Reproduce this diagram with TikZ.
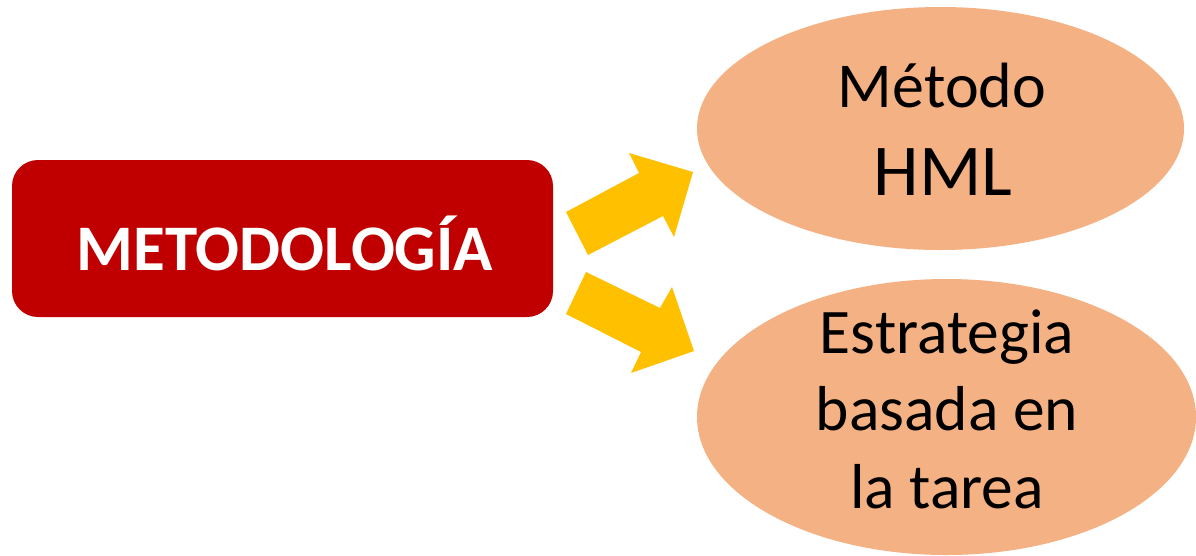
\documentclass[tikz,border=0pt]{standalone}
\usepackage{fontspec}
\setmainfont{Carlito}
\usetikzlibrary{shapes.geometric}
\definecolor{boxred}{HTML}{C00000}
\definecolor{ovalfill}{HTML}{F4B183}
\definecolor{arrowgold}{HTML}{FFC000}
\tikzset{
  oval/.style={ellipse, fill=ovalfill, draw=none, inner sep=0pt},
  blockarrow/.style={fill=arrowgold, draw=none},
  ovaltext/.style={align=center, text=black, inner sep=0pt}
}
\begin{document}
\begin{tikzpicture}[x=1pt,y=-1pt]
\useasboundingbox (0,0) rectangle (1196,555);
% main box
\node[fill=boxred, rounded corners=26pt, minimum width=541pt, minimum height=157pt, inner sep=0pt] (met) at (282.5,238.5) {};
\node[anchor=base, text=white, inner sep=0pt, font=\bfseries\fontsize{65}{78}\selectfont] (mettext) at (285,270) {METODOLOGÍA};
% ellipses
\node[oval, minimum width=487pt, minimum height=243pt] (hml) at (940.5,128.5) {};
\node[oval, minimum width=499pt, minimum height=276pt] (est) at (946.5,417) {};
% ellipse texts
\node[anchor=base, ovaltext, font=\fontsize{64}{76}\selectfont] (t1) at (942,107) {Método};
\node[anchor=base, ovaltext, font=\fontsize{73}{86}\selectfont] (t2) at (943,195) {HML};
\node[anchor=base, ovaltext, font=\fontsize{63.5}{76}\selectfont] (t3) at (947,353) {Estrategia};
\node[anchor=base, ovaltext, font=\fontsize{63.5}{76}\selectfont] (t4) at (947,430) {basada en};
\node[anchor=base, ovaltext, font=\fontsize{63.5}{76}\selectfont] (t5) at (947,508) {la tarea};
% block arrows
\fill[blockarrow] (566,212) -- (639,173) -- (629,153) -- (693,172) -- (674,237) -- (663,216) -- (588,255) -- cycle;
\fill[blockarrow] (586,272) -- (660,308) -- (672,287) -- (694,351) -- (631,373) -- (641,352) -- (566,314) -- cycle;
\end{tikzpicture}
\end{document}
